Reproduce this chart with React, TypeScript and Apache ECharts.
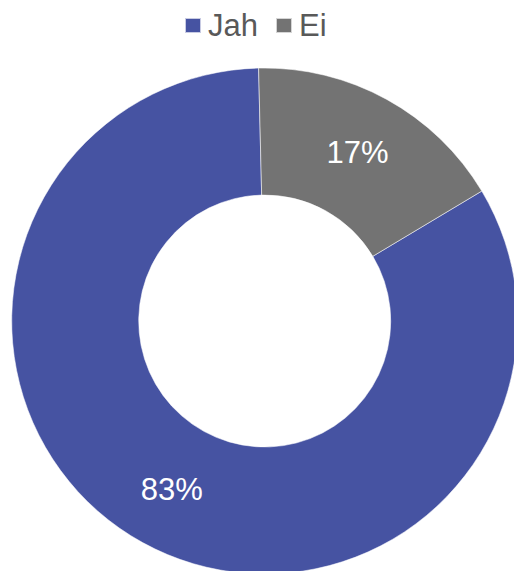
import React, { useEffect, useRef } from "react";
import * as echarts from "echarts";

const categories = ["Jah", "Ei"];
const values = [83.2, 16.8];
const colors = ["#4653A2", "#737373"];

export default function App() {
  const ref = useRef<HTMLDivElement>(null);
  useEffect(() => {
    document.body.style.margin = "0";
    const chart = echarts.init(ref.current!, null, { renderer: "svg" });
    chart.setOption({
      animation: false,
      backgroundColor: "#ffffff",
      legend: {
        data: categories,
        top: 5,
        left: 179,
        itemWidth: 16,
        itemHeight: 15,
        itemGap: 17,
        icon: "rect",
        textStyle: {
          fontSize: 31,
          color: "#595959",
          fontFamily: "Liberation Sans, Arial, sans-serif",
          padding: [0, 0, 0, 2],
        },
      },
      series: [
        {
          type: "pie",
          center: [264.7, 321],
          radius: [126, 253],
          startAngle: 30.9,
          clockwise: true,
          avoidLabelOverlap: false,
          itemStyle: { borderColor: "rgba(255,255,255,0.7)", borderWidth: 0.75 },
          label: {
            show: true,
            position: "inside",
            color: "#ffffff",
            fontSize: 31,
            fontFamily: "Liberation Sans, Arial, sans-serif",
            formatter: (p: any) => Math.round(p.percent) + "%",
          },
          labelLine: { show: false },
          emphasis: { disabled: true },
          data: categories.map((name, i) => ({
            name,
            value: values[i],
            itemStyle: { color: colors[i] },
          })),
        },
      ],
    });
    return () => chart.dispose();
  }, []);
  return <div ref={ref} style={{ width: 514, height: 571 }} />;
}
